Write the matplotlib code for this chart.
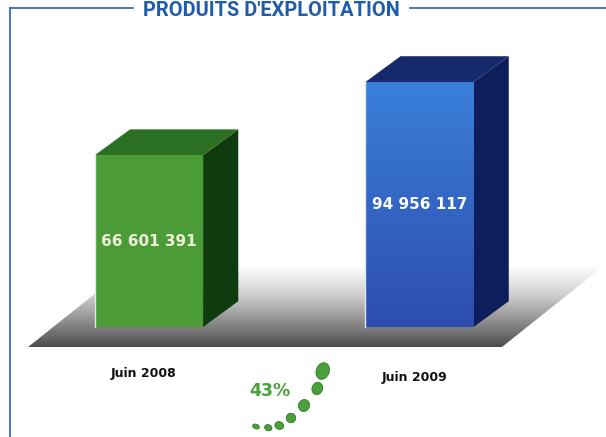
import matplotlib
matplotlib.use('Agg')
import matplotlib.pyplot as plt
import numpy as np
from matplotlib.patches import Polygon, Ellipse
from matplotlib.colors import LinearSegmentedColormap

# data
categories = ['Juin 2008', 'Juin 2009']
values = [66601391, 94956117]
title = "PRODUITS D'EXPLOITATION"
growth_label = '43%'

# styles
front_colors = ['#4b9c37', '#3468c6']
top_colors = ['#2c7024', '#15296c']
side_colors = ['#0f3b0e', '#0e1e5a']
frame_color = '#3a6cb6'
title_color = '#1f5caa'
dot_green = '#4aa03a'

W, H = 606, 437
fig = plt.figure(figsize=(W / 100, H / 100), dpi=100)
fig.patch.set_facecolor('white')

# bar axes: x in category units, y in millions
px_per_cat = 270.5
x0_px = 149.0
px_per_m = 2.58
y0_px = 110.0  # pixels from bottom for value 0
ax = fig.add_axes([0, 0, 1, 1])
ax.axis('off')

bar_w = 0.40
depth_x = 0.13   # category units
depth_y = 10.0   # millions

# floor (gradient parallelogram)
fl_bottom, fl_top = -7.75, 24.0
fl_left, fl_right = -0.447, 1.305
fl_shift = 0.38
floor = Polygon([(fl_left, fl_bottom), (fl_right, fl_bottom),
                 (fl_right + fl_shift, fl_top), (fl_left + fl_shift, fl_top)],
                closed=True, facecolor='none', edgecolor='none')
ax.add_patch(floor)
floor_cmap = LinearSegmentedColormap.from_list(
    'floor', ['#4a4a4a', '#8a8a8a', '#cfcfcf', '#ffffff'])
grad = np.linspace(0, 1, 256).reshape(-1, 1) ** 0.9
img = ax.imshow(grad, cmap=floor_cmap, aspect='auto', origin='lower',
                extent=(fl_left, fl_right + fl_shift, fl_bottom, fl_top),
                zorder=1, interpolation='bilinear')
img.set_clip_path(floor)

xs = np.arange(len(categories))
vals_m = [v / 1e6 for v in values]
rects = ax.bar(xs, vals_m, width=bar_w, color=front_colors, zorder=3,
               edgecolor='none')

for i, (x, v) in enumerate(zip(xs, vals_m)):
    r = x + bar_w / 2
    l = x - bar_w / 2
    side = Polygon([(r, 0), (r + depth_x, depth_y), (r + depth_x, v + depth_y), (r, v)],
                   closed=True, facecolor=side_colors[i], edgecolor='none', zorder=2)
    top = Polygon([(l, v), (l + depth_x, v + depth_y), (r + depth_x, v + depth_y), (r, v)],
                  closed=True, facecolor=top_colors[i], edgecolor='none', zorder=2)
    ax.add_patch(side)
    ax.add_patch(top)

# blue front gets a light-to-dark gradient
blue_cmap = LinearSegmentedColormap.from_list('bl', ['#2d4dae', '#3466c4', '#3a80da'])
bimg = ax.imshow(np.linspace(0, 1, 256).reshape(-1, 1), cmap=blue_cmap, aspect='auto',
                 origin='lower', extent=(xs[1] - bar_w / 2, xs[1] + bar_w / 2, 0, vals_m[1]),
                 zorder=4)
bimg.set_clip_path(rects[1])
ax.set_xlim(-x0_px / px_per_cat, (W - x0_px) / px_per_cat)
ax.set_ylim(-y0_px / px_per_m, (H - y0_px) / px_per_m)

# thin light edge on front faces
for i, x in enumerate(xs):
    ax.plot([x - bar_w / 2, x - bar_w / 2], [0, vals_m[i]], color='#dfe9f5', lw=1.0, zorder=5)

# value labels
val_colors = ['#eef3d8', 'white']
for i, (x, v) in enumerate(zip(xs, values)):
    ax.text(x, vals_m[i] / 2, f'{v:,}'.replace(',', ' '), ha='center', va='center',
            color=val_colors[i], fontsize=11, fontweight='bold', zorder=6)

# category labels
label_y = [-18.0, -19.4]
for i, (x, c) in enumerate(zip(xs, categories)):
    ax.text(x - 0.02, label_y[i], c, ha='center', va='center', fontsize=9,
            fontweight='bold', color='#111111', zorder=6)

# decoration overlay in pixel coordinates
deco = fig.add_axes([0, 0, 1, 1], zorder=10)
deco.set_xlim(0, W)
deco.set_ylim(H, 0)
deco.patch.set_alpha(0)
deco.axis('off')

deco.plot([10, 10], [8, H], color=frame_color, lw=1.3)
deco.plot([10, 133], [8, 8], color=frame_color, lw=1.3)
deco.plot([410, W], [8, 8], color=frame_color, lw=1.3)
deco.text(271, 16, title, ha='center', va='baseline', fontsize=14.4,
          fontweight='bold', color=title_color, family=['Roboto', 'DejaVu Sans'])

deco.text(270, 391, growth_label, ha='center', va='center', fontsize=12.5,
          fontweight='bold', color=dot_green)

dots = [(322.7, 371, 13, 17), (317.3, 388.5, 10.5, 12.5), (304, 405.5, 11, 12),
        (291, 418, 9.5, 9.5), (279.3, 425.5, 9, 7.5), (268.3, 427.7, 7.5, 6),
        (256, 426.5, 7, 4.5)]
for (cx, cy, dw, dh) in dots:
    deco.add_patch(Ellipse((cx, cy), dw, dh, angle=20, facecolor=dot_green,
                           edgecolor='#2f7a26', lw=0.6))

fig.savefig('out.png', dpi=100)
